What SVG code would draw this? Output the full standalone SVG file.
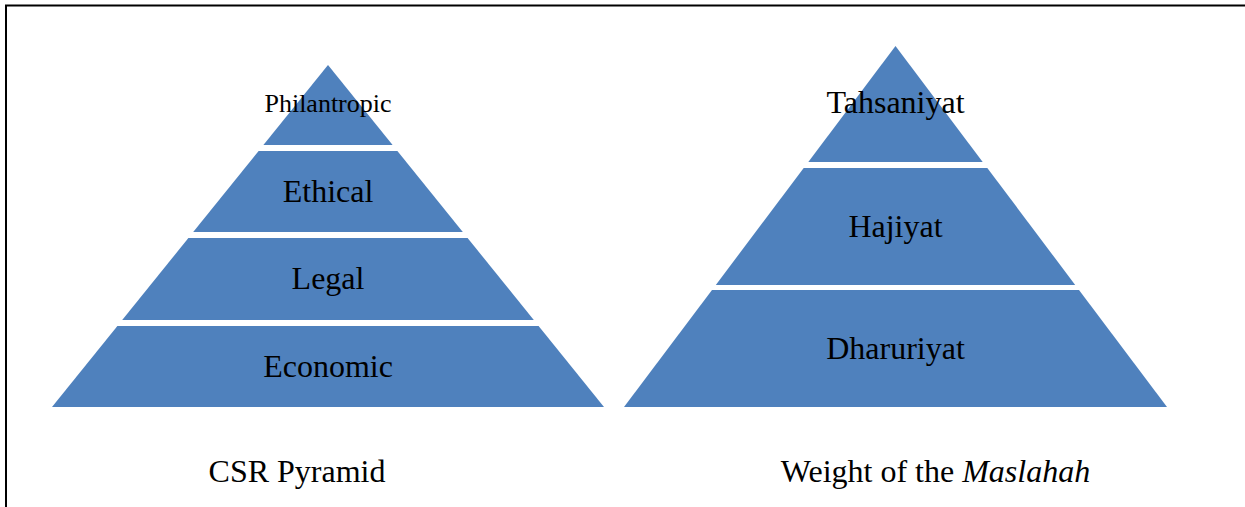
<svg xmlns="http://www.w3.org/2000/svg" width="1245" height="507" viewBox="0 0 1245 507">
  <style>
    .layer { fill: #4F81BD; }
    .lbl { font-family: "Liberation Serif", "Times New Roman", serif; font-size: 32px; fill: #000; text-anchor: middle; }
    .small { font-size: 26px; }
    .cap { font-family: "Liberation Serif", "Times New Roman", serif; font-size: 32px; fill: #000; text-anchor: middle; }
  </style>
  <rect x="0" y="0" width="1245" height="507" fill="#fff"/>
  <!-- frame: top and left rules -->
  <path d="M6,507 V5.5 H1245" fill="none" stroke="#000" stroke-width="2"/>

  <!-- CSR pyramid -->
  <g id="csr-philantropic">
    <polygon class="layer" points="328,65 392.6,145 263.4,145"/>
    <text class="lbl small" x="328" y="112">Philantropic</text>
  </g>
  <g id="csr-ethical">
    <polygon class="layer" points="258.6,151 397.4,151 462.8,232 193.2,232"/>
    <text class="lbl" x="328" y="202">Ethical</text>
  </g>
  <g id="csr-legal">
    <polygon class="layer" points="188.4,238 467.6,238 533.8,320 122.2,320"/>
    <text class="lbl" x="328" y="289">Legal</text>
  </g>
  <g id="csr-economic">
    <polygon class="layer" points="117.4,326 538.6,326 604,407 52,407"/>
    <text class="lbl" x="328" y="377">Economic</text>
  </g>

  <!-- Maslahah pyramid -->
  <g id="maslahah-tahsaniyat">
    <polygon class="layer" points="895.5,46 982.7,162 808.3,162"/>
    <text class="lbl" x="895.5" y="113">Tahsaniyat</text>
  </g>
  <g id="maslahah-hajiyat">
    <polygon class="layer" points="803.7,168 987.3,168 1075.2,285 715.8,285"/>
    <text class="lbl" x="895.5" y="237">Hajiyat</text>
  </g>
  <g id="maslahah-dharuriyat">
    <polygon class="layer" points="712,290 1079,290 1167,407 624,407"/>
    <text class="lbl" x="895.5" y="359">Dharuriyat</text>
  </g>

  <g id="connectors"/>

  <!-- captions -->
  <g id="caption-csr">
    <text class="cap" x="297" y="482">CSR Pyramid</text>
  </g>
  <g id="caption-maslahah">
    <text class="cap" x="935.5" y="482">Weight of the <tspan font-style="italic">Maslahah</tspan></text>
  </g>
</svg>
